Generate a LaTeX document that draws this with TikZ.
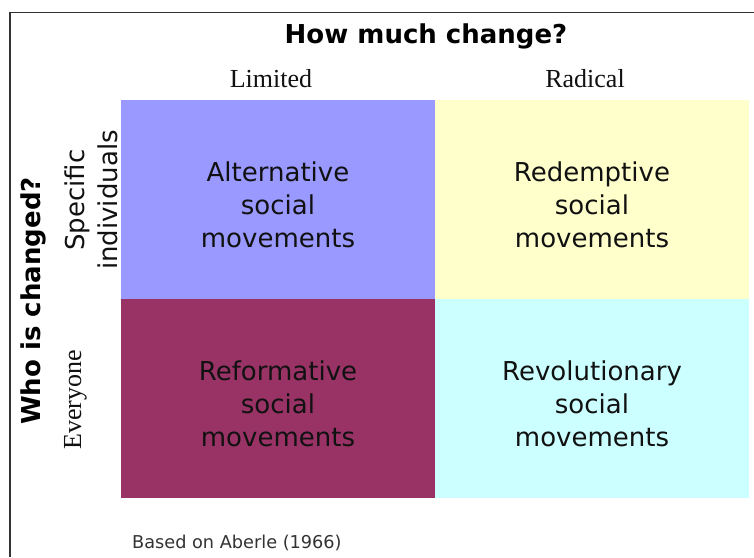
\documentclass[tikz,border=0pt]{standalone}
\usepackage{fontspec}
\setmainfont{Liberation Serif}
\newfontfamily\dvs{DejaVu Sans}
\definecolor{cellblue}{HTML}{9999FF}
\definecolor{cellyellow}{HTML}{FFFFCC}
\definecolor{cellmaroon}{HTML}{993366}
\definecolor{cellcyan}{HTML}{CCFFFF}
\definecolor{framegray}{HTML}{333333}
\definecolor{txt}{HTML}{111111}
\tikzset{
  cell/.style={draw=none, minimum width=314pt, minimum height=199pt, inner sep=0pt, outer sep=0pt},
  celltext/.style={align=center, text=txt, font=\dvs\fontsize{26}{33}\selectfont},
  serlabel/.style={text=txt, font=\fontsize{26}{30}\selectfont, inner sep=0pt},
  boldtitle/.style={text=black, font=\dvs\bfseries\fontsize{26}{30}\selectfont, inner sep=0pt},
}
\begin{document}
\begin{tikzpicture}[x=1pt,y=-1pt]
\useasboundingbox (0,0) rectangle (754,557);
\fill[white] (0,0) rectangle (754,557);
% frame (only top and left edges visible)
\draw[framegray, line width=1.6pt] (10,557) -- (10,12.5) -- (754,12.5);
% cells
\node[cell, fill=cellblue, anchor=north west] (alt) at (121,100) {};
\node[cell, fill=cellyellow, anchor=north west] (red) at (435,100) {};
\node[cell, fill=cellmaroon, anchor=north west] (ref) at (121,299) {};
\node[cell, fill=cellcyan, anchor=north west] (rev) at (435,299) {};
\node[celltext] (altt) at ([yshift=-5.5pt]alt.center) {Alternative\\social\\movements};
\node[celltext] (redt) at ([yshift=-5.5pt]red.center) {Redemptive\\social\\movements};
\node[celltext] (reft) at ([yshift=-5.5pt]ref.center) {Reformative\\social\\movements};
\node[celltext] (revt) at ([yshift=-5.5pt]rev.center) {Revolutionary\\social\\movements};
% titles
\node[boldtitle, anchor=base] (howmuch) at (426,43) {How much change?};
\node[serlabel, anchor=base] (limited) at (271,87) {Limited};
\node[serlabel, anchor=base] (radical) at (585,87) {Radical};
\node[boldtitle, anchor=base, rotate=90] (who) at (40,301) {Who is changed?};
\node[celltext, rotate=90, text=txt] (spec) at (91,200) {Specific\\individuals};
\node[serlabel, anchor=base, rotate=90] (every) at (81,400) {Everyone};
\node[anchor=base west, inner sep=0pt, text=framegray, font=\dvs\fontsize{17.7}{20}\selectfont] (based) at (132,548) {Based on Aberle (1966)};
\end{tikzpicture}
\end{document}
